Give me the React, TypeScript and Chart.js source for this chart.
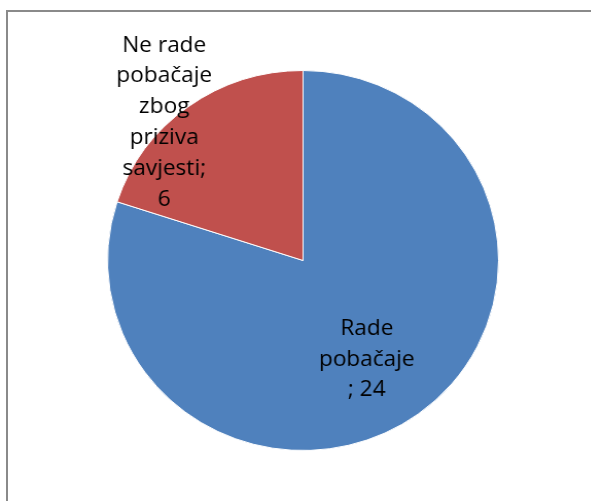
import React, { useEffect, useRef } from "react";
import { Chart, registerables } from "chart.js";

Chart.register(...registerables);

const categories = ["Rade pobačaje", "Ne rade pobačaje zbog priziva savjesti"];
const values = [24, 6];
const colors = ["#4F81BD", "#C0504D"];
// wrapped label lines as shown in the reference
const labelLines = [
  ["Rade", "pobačaje", `; ${values[0]}`],
  ["Ne rade", "pobačaje", "zbog", "priziva", "savjesti;", `${values[1]}`],
];
// label placement relative to the pie radius (style only)
const labelPos = [
  [0.326, 0.52],
  [-0.71, -0.727],
];

const labelPlugin = {
  id: "sliceLabels",
  afterDatasetsDraw(chart: any) {
    const ctx = chart.ctx;
    const meta = chart.getDatasetMeta(0);
    ctx.save();
    ctx.font = '22px "Open Sans", sans-serif';
    ctx.fillStyle = "#000";
    ctx.textAlign = "center";
    ctx.textBaseline = "middle";
    const lh = 30.8;
    meta.data.forEach((arc: any, i: number) => {
      const r = arc.outerRadius;
      const cx = arc.x + labelPos[i][0] * r;
      const cy = arc.y + labelPos[i][1] * r;
      const lines = labelLines[i];
      const y0 = cy - ((lines.length - 1) * lh) / 2;
      lines.forEach((t, k) => ctx.fillText(t, cx, y0 + k * lh));
    });
    ctx.restore();
  },
};

export default function App() {
  const ref = useRef<HTMLCanvasElement>(null);
  useEffect(() => {
    const chart = new Chart(ref.current!, {
      type: "pie",
      data: {
        labels: categories,
        datasets: [
          {
            data: values,
            backgroundColor: colors,
            borderColor: "#ffffff",
            borderWidth: 1,
          },
        ],
      },
      options: {
        responsive: false,
        animation: false,
        layout: { padding: { left: 0, right: 2, top: 70, bottom: 50 } },
        plugins: {
          legend: { display: false },
          tooltip: { enabled: false },
        },
      },
      plugins: [labelPlugin],
    });
    return () => chart.destroy();
  }, []);
  return (
    <div style={{ position: "fixed", left: 0, top: 0, width: 591, height: 501, overflow: "hidden", background: "#fff" }}>
      <div
        style={{
          position: "absolute",
          left: 6,
          top: 10,
          width: 700,
          height: 600,
          border: "2px solid #8a8a8a",
        }}
      />
      <div style={{ position: "absolute", left: 0, top: 0, transform: "scaleX(1.029)", transformOrigin: "0 0" }}>
        <canvas ref={ref} width={591} height={501} />
      </div>
    </div>
  );
}
